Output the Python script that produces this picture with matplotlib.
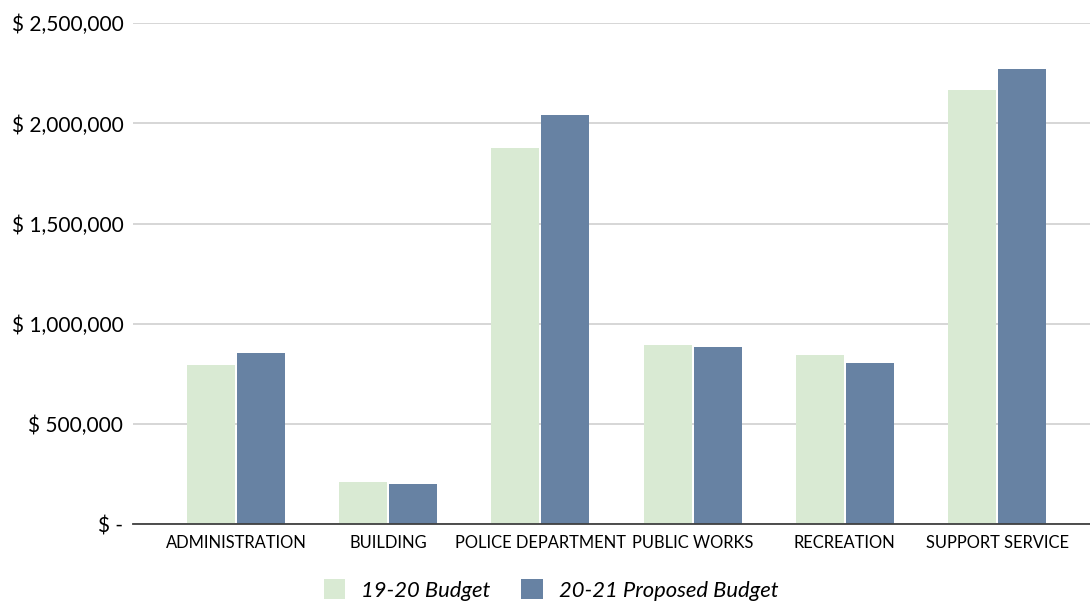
import numpy as np
import matplotlib
matplotlib.use("Agg")
import matplotlib.pyplot as plt
from matplotlib.patches import Patch

plt.rcParams['font.family'] = ['Lato', 'DejaVu Sans']

# department budgets in dollars
departments = ['ADMINISTRATION', 'BUILDING', 'POLICE DEPARTMENT', 'PUBLIC WORKS',
               'RECREATION', 'SUPPORT SERVICE']
budget_1920 = [796000, 210000, 1879000, 895000, 845000, 2165000]
budget_2021 = [853000, 202000, 2040000, 885000, 807000, 2271000]
series_names = ['19-20 Budget', '20-21 Proposed Budget']
yticks = [0, 500000, 1000000, 1500000, 2000000, 2500000]

green = '#d9ead3'
blue = '#6782a3'

fig = plt.figure(figsize=(10.9, 6.01), dpi=100)
ax = fig.add_axes([133 / 1090, (601 - 524.3) / 601, 957 / 1090, 501 / 601])

x = np.arange(len(departments))
w = 0.315
off = 0.164
ax.bar(x - off, budget_1920, width=w, color=green, zorder=3)
ax.bar(x + off, budget_2021, width=w, color=blue, zorder=3)

ax.set_xlim(-0.677, 5.611)
ax.set_ylim(0, 2500000)
ax.set_yticks(yticks)
ax.set_yticklabels(['$ -' if v == 0 else f'$ {v:,.0f}' for v in yticks])
ax.set_xticks(x)
ax.set_xticklabels(departments)

ax.tick_params(axis='y', length=0, pad=7, labelsize=15, labelcolor='#000000')
ax.tick_params(axis='x', length=0, pad=8, labelsize=11.9, labelcolor='#000000')

ax.grid(axis='y', color='#cccccc', linewidth=1.1, zorder=0)
ax.set_axisbelow(True)
for s in ['top', 'right', 'left']:
    ax.spines[s].set_visible(False)
ax.spines['bottom'].set_color('#404040')
ax.spines['bottom'].set_linewidth(1.3)
ax.spines['bottom'].set_zorder(4)

handles = [Patch(facecolor=green, edgecolor='none'), Patch(facecolor=blue, edgecolor='none')]
fig.legend(handles, series_names, loc='center', bbox_to_anchor=(551 / 1090, 1 - 590 / 601),
           ncol=2, frameon=False, prop={'style': 'italic', 'size': 15.8},
           handlelength=1.0, handleheight=1.0, handletextpad=0.72, columnspacing=1.4)

fig.savefig('out.png', dpi=100)
